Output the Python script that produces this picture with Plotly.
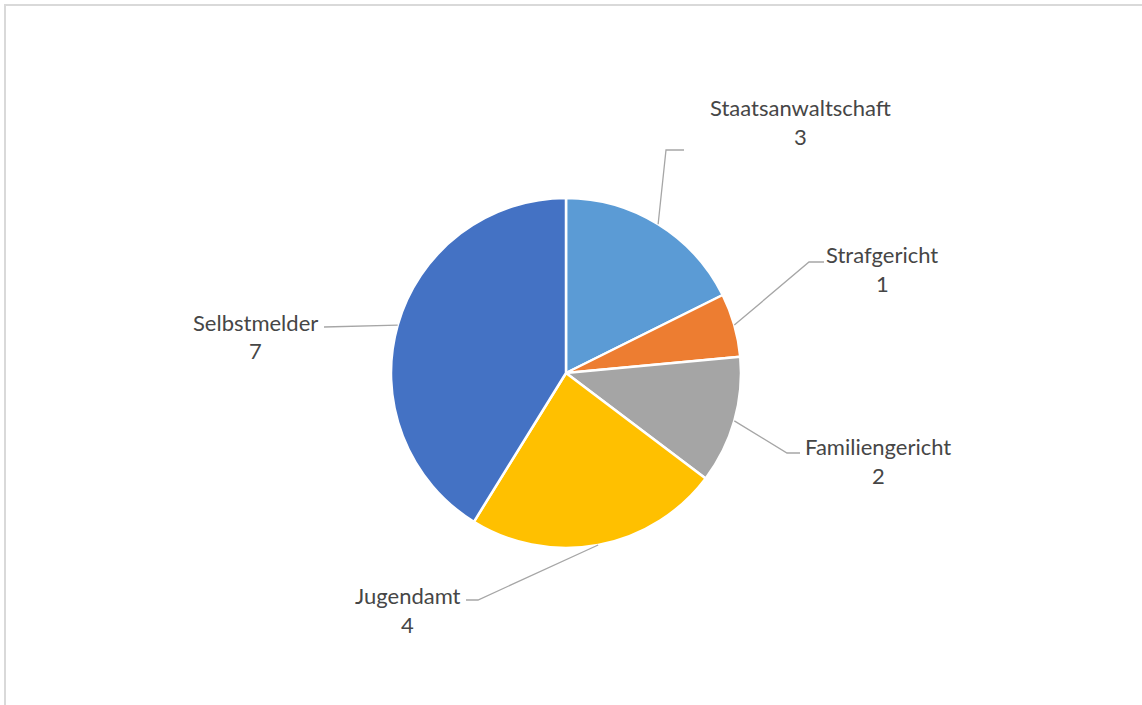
import math
import plotly.graph_objects as go

# Data
categories = ["Staatsanwaltschaft", "Strafgericht", "Familiengericht", "Jugendamt", "Selbstmelder"]
counts = [3, 1, 2, 4, 7]
colors = ["#5B9BD5", "#ED7D31", "#A5A5A5", "#FFC000", "#4472C4"]

# Canvas geometry (pixels)
W, H = 1142, 705
CX, CY, R = 566, 373, 175

# Label anchors (pixel position of the text centre) and leader-line elbows
label_pos = [(800, 107), (882, 254), (878, 446), (408, 595), (255, 322)]
elbows = [
    [(666, 150), (684, 150)],
    [(809, 262), (824, 262)],
    [(787, 453), (800, 453)],
    [(478, 600), (466, 600)],
    [(324, 327), (324, 327)],
]


def px(x):
    return x / W


def py(y):
    return 1 - y / H


fig = go.Figure(
    go.Pie(
        labels=categories,
        values=counts,
        marker=dict(colors=colors, line=dict(color="white", width=2.5)),
        sort=False,
        direction="clockwise",
        rotation=0,
        textinfo="none",
        hoverinfo="label+value",
        domain=dict(x=[px(CX - R), px(CX + R)], y=[py(CY + R), py(CY - R)]),
        showlegend=False,
    )
)

shapes = []
annotations = []
total = sum(counts)
cum = 0
font = dict(family="Lato, Carlito, Calibri, sans-serif", size=22, color="#464646")
for name, val, (lx, ly), elbow in zip(categories, counts, label_pos, elbows):
    mid = (cum + val / 2) / total * 2 * math.pi
    cum += val
    sx = CX + R * math.sin(mid)
    sy = CY - R * math.cos(mid)
    pts = [(sx, sy)] + elbow
    path = "M " + " L ".join(f"{px(x):.5f},{py(y):.5f}" for x, y in pts)
    shapes.append(dict(type="path", xref="paper", yref="paper", path=path,
                       line=dict(color="#A6A6A6", width=1.3)))
    annotations.append(dict(x=px(lx), y=py(ly), xref="paper", yref="paper",
                            text=name, showarrow=False, font=font,
                            xanchor="center", yanchor="middle"))
    annotations.append(dict(x=px(lx), y=py(ly + 29), xref="paper", yref="paper",
                            text=str(val), showarrow=False, font=font,
                            xanchor="center", yanchor="middle"))

# Chart-area border (runs past the right and bottom edges)
shapes.append(dict(type="rect", xref="paper", yref="paper",
                   x0=px(5), y0=py(720), x1=px(1160), y1=py(5),
                   line=dict(color="#D9D9D9", width=2), fillcolor="rgba(0,0,0,0)"))

fig.update_layout(
    width=W, height=H,
    margin=dict(l=0, r=0, t=0, b=0),
    paper_bgcolor="white",
    plot_bgcolor="white",
    shapes=shapes,
    annotations=annotations,
)

fig.write_html("out.html")
